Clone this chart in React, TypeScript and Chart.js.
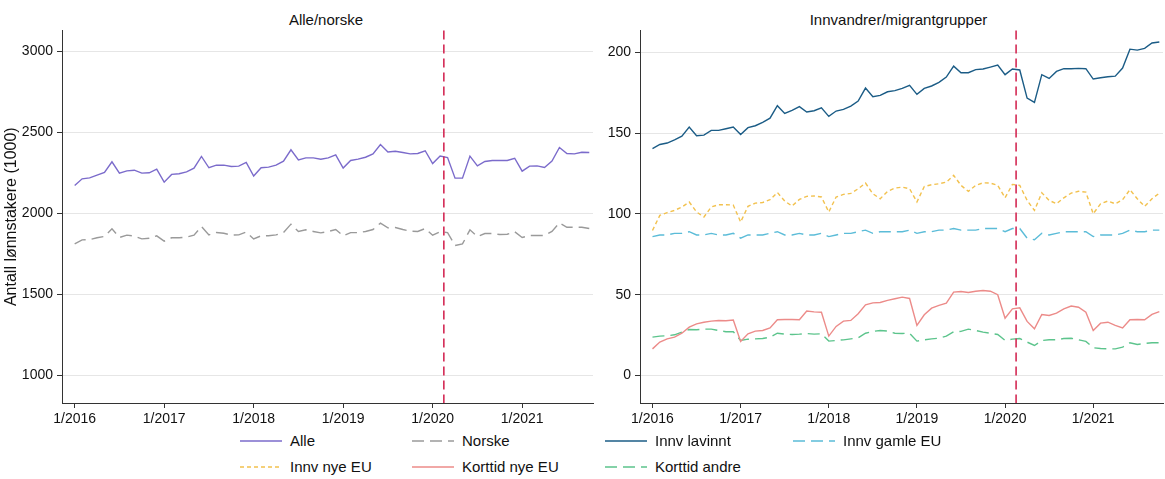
import { useEffect, useRef } from 'react';
import { Chart, registerables } from 'chart.js';

Chart.register(...registerables);

const months: number[] = Array.from({ length: 70 }, (_, i) => i);
const xTicks = [0, 12, 24, 36, 48, 60];
const breakMonth = 49.5;

const alle = [2173, 2214, 2220, 2237, 2253, 2319, 2249, 2263, 2267, 2249, 2251, 2273, 2193, 2241, 2245, 2257, 2280, 2352, 2282, 2298, 2298, 2290, 2292, 2315, 2231, 2282, 2286, 2298, 2323, 2393, 2331, 2343, 2343, 2335, 2343, 2362, 2280, 2327, 2335, 2347, 2368, 2426, 2380, 2384, 2376, 2368, 2370, 2387, 2308, 2354, 2345, 2218, 2218, 2354, 2294, 2321, 2327, 2327, 2327, 2341, 2261, 2292, 2294, 2284, 2323, 2407, 2370, 2368, 2378, 2376];
const norske = [1812, 1837, 1839, 1850, 1858, 1905, 1852, 1866, 1860, 1843, 1847, 1862, 1829, 1850, 1850, 1854, 1866, 1920, 1868, 1882, 1878, 1866, 1868, 1885, 1843, 1862, 1862, 1868, 1882, 1934, 1889, 1899, 1889, 1880, 1889, 1901, 1862, 1882, 1882, 1889, 1901, 1940, 1911, 1913, 1901, 1891, 1889, 1907, 1866, 1887, 1882, 1802, 1812, 1899, 1858, 1876, 1876, 1870, 1872, 1887, 1852, 1864, 1864, 1864, 1889, 1942, 1915, 1915, 1915, 1907];

const innvLavinnt = [140.4, 143.0, 143.9, 145.9, 148.2, 153.8, 148.4, 148.8, 151.7, 151.7, 152.7, 153.8, 149.2, 153.4, 154.6, 156.7, 159.3, 167.0, 162.2, 164.1, 166.4, 163.1, 163.9, 165.7, 160.4, 163.7, 164.7, 166.8, 169.9, 177.9, 172.5, 173.4, 175.6, 176.3, 177.7, 179.6, 174.0, 177.7, 179.2, 181.4, 184.7, 191.5, 187.4, 187.4, 189.3, 189.7, 190.9, 192.1, 186.2, 189.7, 189.1, 171.7, 169.0, 186.2, 183.9, 188.2, 189.9, 189.9, 190.1, 189.9, 183.5, 184.3, 184.9, 185.3, 190.3, 202.0, 201.4, 202.5, 205.8, 206.4];
const innvNyeEU = [89.8, 99.1, 100.8, 102.2, 104.3, 107.4, 101.2, 98.1, 104.3, 105.7, 105.7, 105.5, 95.0, 104.7, 106.7, 107.1, 108.8, 113.3, 108.0, 104.9, 109.0, 110.9, 111.1, 110.5, 101.2, 110.5, 112.1, 112.7, 115.6, 119.1, 112.5, 109.4, 114.0, 116.0, 116.6, 115.6, 107.4, 117.0, 118.1, 118.7, 119.7, 123.9, 117.7, 114.0, 117.7, 119.3, 119.1, 117.7, 110.0, 118.3, 117.7, 108.4, 102.2, 113.1, 108.4, 106.3, 110.0, 112.9, 114.0, 113.5, 100.1, 106.3, 108.0, 106.3, 108.8, 115.0, 109.4, 104.7, 109.4, 112.9];
const innvGamleEU = [86, 87, 87, 88, 88, 89, 87, 87, 88, 87, 87, 88, 85, 87, 87, 87, 88, 89, 87, 87, 88, 87, 87, 88, 86, 87, 88, 88, 89, 90, 88, 89, 89, 89, 89, 90, 88, 89, 89, 90, 90, 91, 90, 90, 90, 91, 91, 91, 89, 91, 91, 85, 84, 88, 87, 88, 89, 89, 89, 89, 86, 87, 87, 87, 88, 90, 89, 89, 90, 90];
const korttidNyeEU = [16.5, 20.7, 22.7, 23.8, 26.2, 29.9, 32.0, 33.0, 33.7, 34.1, 33.9, 34.3, 21.1, 25.8, 27.5, 27.9, 29.5, 34.5, 34.7, 34.7, 34.5, 39.9, 39.4, 39.2, 24.4, 30.4, 33.7, 34.1, 38.2, 43.8, 45.0, 45.2, 46.5, 47.5, 48.5, 47.7, 31.0, 37.6, 41.7, 43.4, 44.8, 51.6, 52.0, 51.4, 52.2, 52.6, 52.2, 50.0, 35.5, 41.3, 41.9, 33.5, 28.9, 37.8, 37.2, 38.6, 41.3, 43.0, 42.3, 39.2, 27.9, 32.4, 33.0, 31.0, 29.5, 34.5, 34.7, 34.5, 37.8, 39.6];
const korttidAndre = [23.8, 24.4, 24.6, 25.2, 26.9, 28.5, 28.3, 28.7, 28.7, 27.9, 27.1, 27.1, 21.7, 22.5, 22.7, 22.9, 23.8, 26.2, 25.6, 25.4, 25.6, 26.0, 25.6, 25.8, 21.3, 21.7, 22.1, 22.7, 23.3, 26.2, 27.3, 27.9, 27.5, 26.2, 26.0, 26.2, 21.3, 22.1, 22.7, 23.1, 24.4, 27.1, 27.3, 28.7, 27.9, 26.9, 26.2, 25.4, 21.7, 22.5, 22.9, 20.7, 18.6, 21.7, 22.1, 22.1, 22.9, 23.1, 22.1, 21.1, 17.2, 16.7, 16.5, 16.5, 17.6, 20.3, 19.2, 19.8, 20.3, 20.3];

const leftTicks = [1000, 1500, 2000, 2500, 3000];
const rightTicks = [0, 50, 100, 150, 200];

type Series = { label: string; data: number[]; color: string; dash: number[] };

const leftSeries: Series[] = [
  { label: 'Alle', data: alle, color: '#7b6bcb', dash: [] },
  { label: 'Norske', data: norske, color: '#9a9a9a', dash: [12, 6] },
];
const rightSeries: Series[] = [
  { label: 'Innv lavinnt', data: innvLavinnt, color: '#1b5c86', dash: [] },
  { label: 'Innv nye EU', data: innvNyeEU, color: '#f2c14e', dash: [4, 3] },
  { label: 'Innv gamle EU', data: innvGamleEU, color: '#5bbcd8', dash: [12, 6] },
  { label: 'Korttid nye EU', data: korttidNyeEU, color: '#ec8b89', dash: [] },
  { label: 'Korttid andre', data: korttidAndre, color: '#5cc48c', dash: [12, 6] },
];

const FONT = '"Liberation Sans", Arial, sans-serif';

const breakLine = {
  id: 'breakLine',
  afterDatasetsDraw(chart: any) {
    const { ctx, chartArea, scales } = chart;
    const x = scales.x.getPixelForValue(breakMonth);
    ctx.save();
    ctx.strokeStyle = '#d42a55';
    ctx.lineWidth = 1.6;
    ctx.setLineDash([9, 5]);
    ctx.beginPath();
    ctx.moveTo(x, chartArea.top);
    ctx.lineTo(x, chartArea.bottom);
    ctx.stroke();
    ctx.restore();
  },
};

function Panel(props: { series: Series[]; ticks: number[]; min: number; max: number; yWidth: number; yTitle?: string }) {
  const ref = useRef<HTMLCanvasElement | null>(null);

  useEffect(() => {
    const ctx = ref.current?.getContext('2d');
    if (!ctx) return;
    const chart = new Chart(ctx, {
      type: 'line',
      data: {
        datasets: props.series.map((s) => ({
          label: s.label,
          data: s.data.map((v, i) => ({ x: months[i], y: v })),
          borderColor: s.color,
          borderDash: s.dash,
          borderWidth: 1.4,
          pointRadius: 0,
          tension: 0,
        })),
      },
      options: {
        animation: false,
        responsive: true,
        maintainAspectRatio: false,
        layout: { padding: { top: 0, right: 2 } },
        plugins: { legend: { display: false }, tooltip: { enabled: false } },
        scales: {
          x: {
            type: 'linear',
            min: -1.7,
            max: 69.5,
            afterBuildTicks: (axis: any) => { axis.ticks = xTicks.map((v) => ({ value: v })); },
            afterFit: (axis: any) => { axis.height = 27; },
            ticks: { color: '#111', font: { family: FONT, size: 14 }, maxRotation: 0, callback: (v: any) => `1/${2016 + Number(v) / 12}` },
            grid: { drawOnChartArea: false, tickLength: 5, tickColor: '#333' },
            border: { color: '#333' },
          },
          y: {
            min: props.min,
            max: props.max,
            afterBuildTicks: (axis: any) => { axis.ticks = props.ticks.map((v) => ({ value: v })); },
            afterFit: (axis: any) => { axis.width = props.yWidth; },
            ticks: { color: '#111', font: { family: FONT, size: 14 }, padding: 4, callback: (v: any) => String(v) },
            grid: { color: '#e6e6e6', tickLength: 5, tickColor: '#333' },
            border: { color: '#333' },
            title: props.yTitle
              ? { display: true, text: props.yTitle, color: '#111', font: { family: FONT, size: 16 }, padding: 2 }
              : { display: false },
          },
        },
      },
      plugins: [breakLine],
    });
    return () => chart.destroy();
  }, []);

  return <canvas ref={ref} />;
}

function LegendItem(props: { s: Series; x: number; y: number }) {
  const { s, x, y } = props;
  return (
    <div style={{ position: 'absolute', left: x, top: y, display: 'flex', alignItems: 'center', whiteSpace: 'nowrap' }}>
      <svg width={42} height={10}>
        <line x1={0} y1={5} x2={42} y2={5} stroke={s.color} strokeWidth={1.5} strokeDasharray={s.dash.join(' ')} />
      </svg>
      <span style={{ marginLeft: 8, fontSize: 15, color: '#111' }}>{s.label}</span>
    </div>
  );
}

export default function App() {
  const titleStyle: React.CSSProperties = { position: 'absolute', top: 11, fontSize: 15, color: '#111', textAlign: 'center' };
  return (
    <div style={{ position: 'absolute', left: 0, top: 0, width: 1165, height: 479, background: '#fff', fontFamily: FONT }}>
      <div style={{ ...titleStyle, left: 62, width: 528 }}>Alle/norske</div>
      <div style={{ ...titleStyle, left: 632, width: 533 }}>Innvandrer/migrantgrupper</div>
      <div style={{ position: 'absolute', left: 0, top: 18, width: 595, height: 412 }}>
        <Panel series={leftSeries} ticks={leftTicks} min={830} max={3130} yWidth={62} yTitle="Antall lønnstakere (1000)" />
      </div>
      <div style={{ position: 'absolute', left: 588, top: 18, width: 577, height: 412 }}>
        <Panel series={rightSeries} ticks={rightTicks} min={-17} max={213.6} yWidth={52} />
      </div>
      <LegendItem s={leftSeries[0]} x={240} y={432} />
      <LegendItem s={leftSeries[1]} x={412} y={432} />
      <LegendItem s={rightSeries[0]} x={605} y={432} />
      <LegendItem s={rightSeries[2]} x={793} y={432} />
      <LegendItem s={rightSeries[1]} x={240} y={458} />
      <LegendItem s={rightSeries[3]} x={412} y={458} />
      <LegendItem s={rightSeries[4]} x={605} y={458} />
    </div>
  );
}
